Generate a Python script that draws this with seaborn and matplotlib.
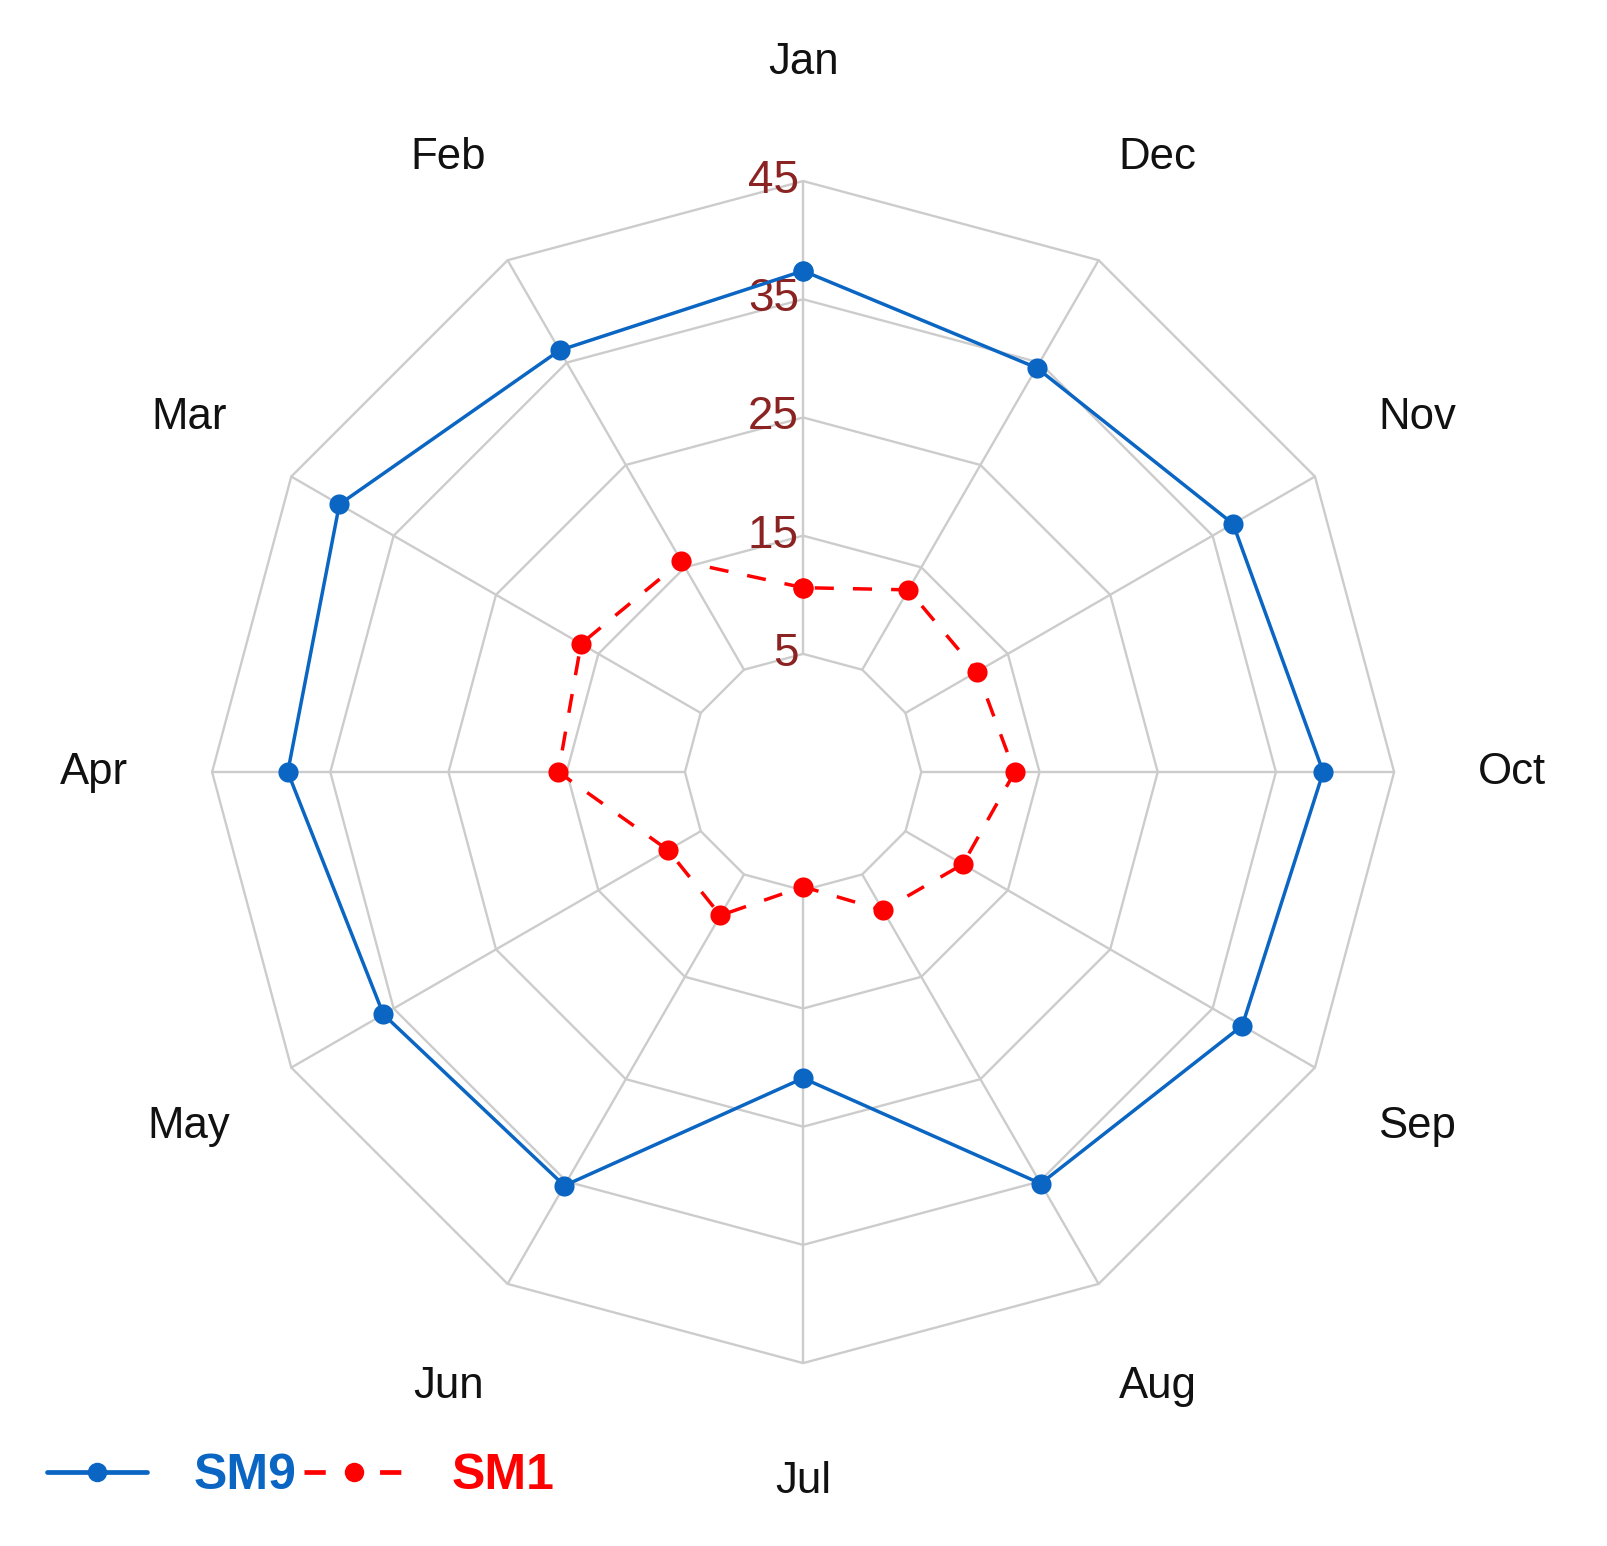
import numpy as np
import pandas as pd
import matplotlib
matplotlib.use("Agg")
import matplotlib.pyplot as plt
from matplotlib.lines import Line2D
import seaborn as sns

# data
months = ['Jan', 'Feb', 'Mar', 'Apr', 'May', 'Jun', 'Jul', 'Aug', 'Sep', 'Oct', 'Nov', 'Dec']
sm9 = [37.4, 36.2, 40.3, 38.6, 36.0, 35.4, 20.9, 35.2, 37.9, 39.0, 37.0, 34.5]
sm1 = [10.6, 15.6, 16.7, 15.7, 8.2, 9.0, 4.7, 8.5, 10.6, 12.9, 12.0, 12.8]
ring_values = [5, 15, 25, 35, 45]

blue = '#0A66C2'
red = '#FF0000'
grid_col = '#CCCCCC'
tick_col = '#8B2323'

sns.set_theme(style='white')
plt.rcParams['font.family'] = ['Liberation Sans', 'DejaVu Sans']

angles = np.arange(len(months)) * 2 * np.pi / len(months)
closed = np.append(angles, 2 * np.pi)

# long table, loop closed by repeating Jan
rows = []
for name, vals in [('SM9', sm9), ('SM1', sm1)]:
    v = list(vals) + [vals[0]]
    for t, r in zip(closed, v):
        rows.append({'theta': t, 'value': r, 'series': name})
df = pd.DataFrame(rows)

fig = plt.figure(figsize=(16.08, 15.46), dpi=100)
ax = fig.add_axes([0.1319, 0.1183, 0.7351, 0.7646], projection='polar')
ax.set_theta_zero_location('N')
ax.set_theta_direction(1)
ax.set_ylim(5, 45)
ax.set_rorigin(-5)
ax.grid(False)
ax.set_frame_on(False)
for sp in ax.spines.values():
    sp.set_visible(False)
ax.patch.set_visible(False)
ax.set_xticks([])
ax.set_yticks([])

# polygon grid
for rv in ring_values:
    ax.plot(closed, [rv] * len(closed), color=grid_col, lw=1.7, zorder=1)
for t in angles:
    ax.plot([t, t], [ring_values[0], ring_values[-1]], color=grid_col, lw=1.7, zorder=1)

sns.lineplot(data=df, x='theta', y='value', hue='series', style='series',
             palette={'SM9': blue, 'SM1': red},
             dashes={'SM9': '', 'SM1': (5.5, 5.5)},
             markers={'SM9': 'o', 'SM1': 'o'},
             markersize=14.5, markeredgewidth=0, linewidth=2.5,
             sort=False, estimator=None, legend=False, ax=ax, zorder=3)
for ln in ax.lines:
    ln.set_clip_on(False)

# radial tick labels
for rv in ring_values:
    ax.annotate(str(rv), xy=(0, rv), xytext=(-3, 0), textcoords='offset points',
                ha='right', va='center', fontsize=33, color=tick_col, zorder=2)

# month labels
for t, m in zip(angles, months):
    ax.text(t, 55, m, ha='center', va='center', fontsize=31.5, color='#111111',
            clip_on=False)

handles = [
    Line2D([], [], color=blue, lw=3.4, marker='o', markersize=14, markeredgewidth=0),
    Line2D([], [], color=red, lw=3.4, ls=(0, (4.5, 11.5)), marker='o', markersize=14,
           markeredgewidth=0),
]
leg = fig.legend(handles, ['SM9', 'SM1'], loc='center left', bbox_to_anchor=(0.001, 0.045),
                 ncol=2, frameon=False, handlelength=2.0, handletextpad=0.95,
                 columnspacing=0.15, prop={'weight': 'bold', 'size': 36})
for txt, c in zip(leg.get_texts(), [blue, red]):
    txt.set_color(c)

fig.savefig('out.png', dpi=100, facecolor='white')
